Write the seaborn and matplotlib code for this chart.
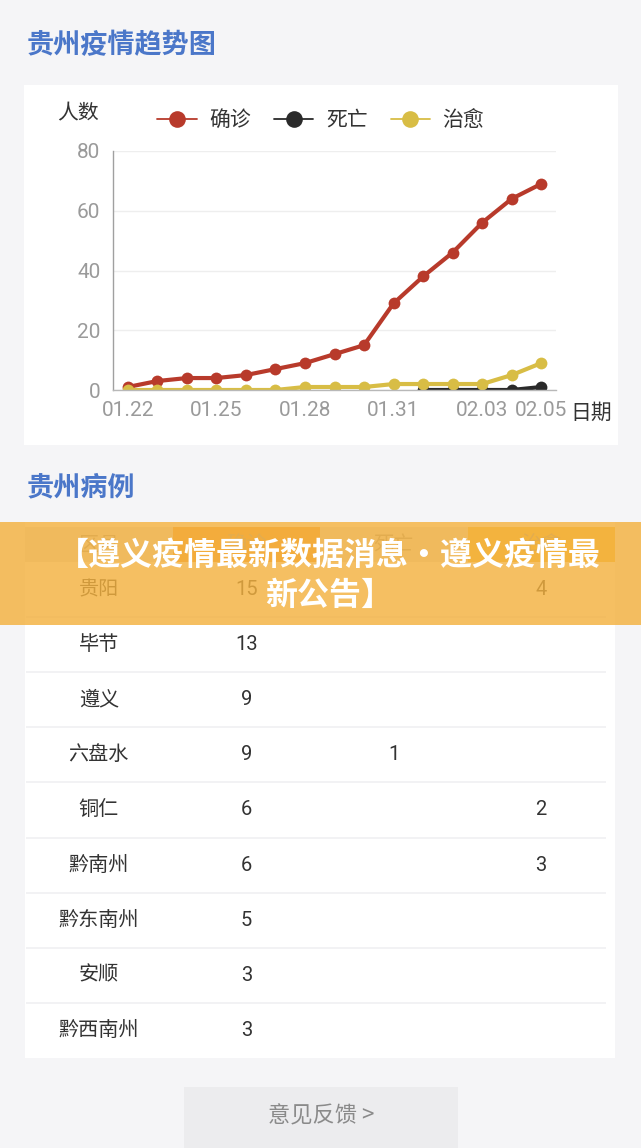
import matplotlib
matplotlib.use('Agg')
import matplotlib.pyplot as plt
from matplotlib.patches import Rectangle
import pandas as pd
import seaborn as sns

# dados do gráfico de tendência
dates = ['01.22', '01.23', '01.24', '01.25', '01.26', '01.27', '01.28', '01.29',
         '01.30', '01.31', '02.01', '02.02', '02.03', '02.04', '02.05']
confirmed = [1, 3, 4, 4, 5, 7, 9, 12, 15, 29, 38, 46, 56, 64, 69]
deaths = [None, None, None, None, None, None, None, None, None, None, 0, 0, 0, 0, 1]
recovered = [0, 0, 0, 0, 0, 0, 1, 1, 1, 2, 2, 2, 2, 5, 9]
tick_dates = ['01.22', '01.25', '01.28', '01.31', '02.03', '02.05']
y_ticks = [0, 20, 40, 60, 80]
series_names = ['确诊', '死亡', '治愈']

# dados da tabela
table_header = ['区县', '确诊', '死亡', '治愈']
regions = ['贵阳', '毕节', '遵义', '六盘水', '铜仁', '黔南州', '黔东南州', '安顺', '黔西南州']
region_confirmed = [15, 13, 9, 9, 6, 6, 5, 3, 3]
region_deaths = [None, None, None, 1, None, None, None, None, None]
region_recovered = [4, None, None, None, 2, 3, None, None, None]

W, H = 641, 1148
BG = '#f5f5f7'

sns.set_theme(style='white')
plt.rcParams['font.family'] = ['Noto Sans CJK SC', 'DejaVu Sans']


def fx(px):
    return px / W


def fy(py):
    return 1 - py / H


fig = plt.figure(figsize=(W / 100, H / 100), dpi=100, facecolor=BG)

# cartões brancos
fig.add_artist(Rectangle((fx(24), fy(445)), fx(618) - fx(24), fy(85) - fy(445),
                         transform=fig.transFigure, facecolor='white', edgecolor='none', zorder=0))
fig.add_artist(Rectangle((fx(25), fy(1058)), fx(615) - fx(25), fy(522) - fy(1058),
                         transform=fig.transFigure, facecolor='white', edgecolor='none', zorder=0))

# títulos
fig.text(fx(27), fy(45), '贵州疫情趋势图', fontsize=19.5, fontweight='bold',
         color='#4b77c9', va='center', ha='left')
fig.text(fx(27), fy(487), '贵州病例', fontsize=19.5, fontweight='bold',
         color='#4b77c9', va='center', ha='left')

# gráfico de linhas
rows = []
for name, vals in zip(series_names, [confirmed, deaths, recovered]):
    for i, v in enumerate(vals):
        rows.append({'idx': i, 'value': v, 'series': name})
df = pd.DataFrame(rows).dropna()

ax = fig.add_axes([fx(113), fy(390), fx(556) - fx(113), fy(151) - fy(390)])
ax.set_facecolor('none')
palette = {'确诊': '#b83a2b', '死亡': '#2a2a2a', '治愈': '#d8bd45'}
sns.lineplot(data=df, x='idx', y='value', hue='series', hue_order=series_names,
             palette=palette, marker='o', markersize=8.5, markeredgewidth=0,
             linewidth=3.0, estimator=None, ax=ax)
ax.set_xlim(-0.5, 14.5)
ax.set_ylim(0, 80)
ax.set_yticks(y_ticks)
ax.set_xticks([dates.index(d) for d in tick_dates])
ax.set_xticklabels(tick_dates)
ax.set_xlabel('')
ax.set_ylabel('')
ax.grid(axis='y', color='#eeeeee', linewidth=1)
ax.set_axisbelow(True)
for s in ['top', 'right']:
    ax.spines[s].set_visible(False)
ax.spines['left'].set_color('#a0a0a0')
ax.spines['bottom'].set_color('#b8b8b8')
ax.spines['left'].set_linewidth(1)
ax.spines['bottom'].set_linewidth(1)
ax.tick_params(axis='both', length=0, labelsize=15, labelcolor='#9a9a9a')
ax.tick_params(axis='y', pad=9)
ax.tick_params(axis='x', pad=8)
for lab in ax.get_xticklabels() + ax.get_yticklabels():
    lab.set_fontfamily('Roboto')
t0 = ax.yaxis.get_major_ticks()[0]
t0.tick1line.set_markersize(4)
t0.tick1line.set_color('#a0a0a0')

handles, labels = ax.get_legend_handles_labels()
ax.get_legend().remove()
leg = fig.legend(handles, labels, loc='center left', bbox_to_anchor=(fx(157), fy(120)),
                 ncol=3, frameon=False, fontsize=15, handlelength=1.9,
                 handletextpad=0.6, columnspacing=1.1, borderpad=0, borderaxespad=0)
for h in leg.get_lines():
    h.set_linewidth(1.3)
    h.set_markersize(12)
for t in leg.get_texts():
    t.set_color('#333333')

fig.text(fx(78), fy(113), '人数', fontsize=15, color='#333333', ha='center', va='center')
fig.text(fx(591), fy(413), '日期', fontsize=15, color='#333333', ha='center', va='center')

# tabela
tax = fig.add_axes([fx(25), fy(1058), fx(615) - fx(25), fy(527) - fy(1058)])
tax.set_facecolor('none')
tax.set_xlim(0, 4)
tax.set_ylim(8.5, -1.135)
tax.axis('off')
header_colors = ['#e4e4e4', '#f59b30', '#e4e4e4', '#f6bd3a']
for j, (h, c) in enumerate(zip(table_header, header_colors)):
    tax.add_patch(Rectangle((j, -1.135), 1, 0.635, facecolor=c, edgecolor='none'))
    tax.text(j + 0.5, -0.81, h, fontsize=14.5, color='#999999', ha='center', va='center')
tax.hlines([i + 0.5 for i in range(len(regions) - 1)], 0.01, 3.94, color='#f0f0f2', linewidth=1.2)
for i, name in enumerate(regions):
    tax.text(0.5, i, name, fontsize=14.5, color='#333333', ha='center', va='center')
    for j, vals in enumerate([region_confirmed, region_deaths, region_recovered], start=1):
        v = vals[i]
        if v is not None:
            tax.text(j + 0.5, i, str(v), fontsize=14.5, color='#333333', ha='center',
                     va='center', fontfamily='Roboto')

# faixa laranja por cima
fig.add_artist(Rectangle((0, fy(625)), 1, fy(522) - fy(625), transform=fig.transFigure,
                         facecolor='#f3b13f', alpha=0.82, edgecolor='none', zorder=5))
fig.text(fx(329), fy(576), '【遵义疫情最新数据消息·遵义疫情最\n新公告】', fontsize=23,
         fontweight='bold', color='white', ha='center', va='center', linespacing=1.3, zorder=6)

# botão
fig.add_artist(Rectangle((fx(184), 0), fx(458) - fx(184), fy(1087), transform=fig.transFigure,
                         facecolor='#ececee', edgecolor='none', zorder=1))
fig.text(fx(321), fy(1116), '意见反馈 >', fontsize=16, color='#8a8a8a', ha='center', va='center')

fig.savefig('out.png', dpi=100, facecolor=BG)
